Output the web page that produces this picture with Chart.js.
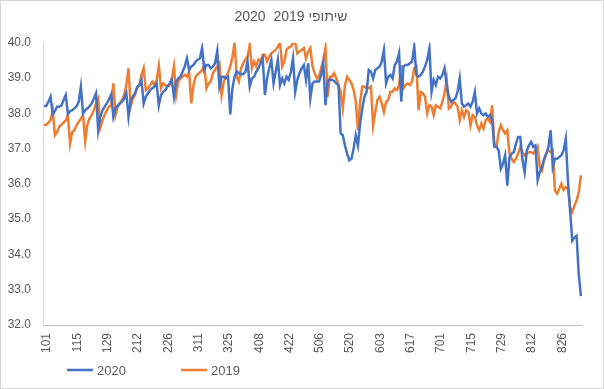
<!DOCTYPE html>
<html>
<head>
<meta charset="utf-8">
<script src="https://cdn.jsdelivr.net/npm/chart.js@4.4.1/dist/chart.umd.min.js"></script>
<style>
  body { margin: 0; background: #ffffff; }
  canvas { display: block; }
</style>
</head>
<body>
<canvas id="tempChart" width="604" height="389"></canvas>
<script>
// days Jan 1 .. Sep 5 (leap year), labelled as MDD
const monthDays = [31, 29, 31, 30, 31, 30, 31, 31, 30];
const categories = [];
monthDays.forEach((n, m) => {
  for (let d = 1; d <= n; d++) {
    categories.push(`${m + 1}${String(d).padStart(2, "0")}`);
  }
});
categories.length = 249;

const tickLabels = ["101", "115", "129", "212", "226", "311", "325", "408", "422",
  "506", "520", "603", "617", "701", "715", "729", "812", "826"];

const series2020 = [
  38.21, 38.21, 38.33, 38.47, 37.97, 38.06, 38.19, 38.19, 38.22, 38.38,
  38.52, 37.98, 38.06, 38.09, 38.14, 38.2, 38.33, 38.76, 38.0, 38.09,
  38.14, 38.2, 38.28, 38.42, 38.57, 37.52, 37.9, 38.09, 38.19, 38.28,
  38.4, 38.54, 37.9, 38.14, 38.21, 38.28, 38.33, 38.42, 38.57, 37.9,
  38.38, 38.47, 38.57, 38.75, 38.8, 38.95, 38.28, 38.47, 38.57, 38.66,
  38.71, 38.76, 38.85, 38.23, 38.52, 38.61, 38.66, 38.76, 38.85, 38.95,
  38.47, 38.9, 38.99, 39.04, 39.18, 39.33, 39.56, 39.23, 39.33, 39.37,
  39.47, 39.52, 39.56, 39.85, 39.23, 39.37, 39.37, 39.28, 39.33, 39.42,
  39.77, 38.76, 39.04, 39.04, 38.99, 39.04, 37.97, 38.71, 39.04, 39.18,
  39.14, 39.11, 39.11, 39.18, 39.47, 38.76, 38.99, 39.04, 39.18, 39.28,
  39.42, 39.56, 38.52, 38.99, 39.28, 39.52, 38.85, 39.18, 39.52, 38.8,
  38.99, 38.85, 39.04, 38.95, 39.18, 39.56, 38.61, 38.95, 39.14, 39.28,
  39.37, 38.95, 39.42, 38.42, 38.85, 38.9, 38.9, 38.9, 39.09, 39.42,
  38.23, 38.9, 38.97, 38.95, 38.92, 38.85, 38.8, 37.43, 37.38, 37.09,
  36.86, 36.67, 36.71, 37.0, 37.38, 37.09, 37.71, 38.14, 38.47, 38.61,
  39.23, 39.18, 38.99, 39.23, 39.28, 39.33, 39.47, 39.8, 38.85, 39.04,
  39.09, 38.99, 39.37, 39.47, 39.71, 38.33, 39.33, 39.37, 39.37, 39.42,
  39.47, 39.9, 39.09, 39.04, 39.09, 39.18, 39.33, 39.52, 39.85, 38.61,
  38.95, 38.8, 39.04, 38.99, 39.09, 39.28, 38.8, 38.47, 38.33, 38.38,
  38.42, 38.61, 38.99, 38.28, 38.19, 38.23, 38.28, 38.19, 38.33, 38.61,
  38.0, 38.14, 38.0, 37.95, 38.0, 37.9, 37.95, 37.81, 37.05, 37.05,
  36.95, 36.43, 36.57, 36.81, 35.95, 36.76, 36.86, 36.9, 37.14, 37.33,
  37.33, 36.67, 36.33, 36.95, 37.09, 37.19, 37.05, 37.09, 36.1, 36.33,
  36.48, 36.71, 36.86, 37.05, 37.52, 36.48, 36.71, 36.71, 36.76, 36.81,
  36.95, 37.28, 36.1, 35.24, 34.39, 34.48, 34.53, 33.44, 32.82
];

const series2019 = [
  37.66, 37.68, 37.74, 37.81, 38.09, 37.38, 37.47, 37.62, 37.68, 37.74,
  37.8, 37.95, 37.14, 37.47, 37.52, 37.66, 37.76, 37.85, 37.95, 37.21,
  37.68, 37.85, 37.95, 38.09, 38.28, 38.42, 37.6, 37.81, 37.95, 38.09,
  38.19, 38.23, 38.85, 37.95, 38.19, 38.28, 38.38, 38.52, 38.8, 39.28,
  38.19, 38.42, 38.52, 38.71, 38.8, 39.09, 39.28, 38.66, 38.71, 38.8,
  38.9, 38.8, 38.95, 39.35, 38.71, 38.85, 38.8, 38.76, 38.8, 38.99,
  39.33, 38.52, 38.9, 38.99, 39.04, 39.09, 39.04, 39.18, 38.28, 38.8,
  39.04, 39.11, 39.16, 39.23, 39.37, 38.71, 38.85, 38.9, 39.14, 39.23,
  39.33, 39.42, 38.52, 38.9, 39.04, 39.14, 39.33, 39.6, 40.0, 39.04,
  38.9, 39.28, 39.42, 39.52, 39.61, 39.94, 39.28, 39.47, 39.33, 39.52,
  39.47, 39.66, 39.66, 39.47, 39.61, 39.7, 39.75, 39.8, 39.89, 40.0,
  39.33, 39.47, 39.8, 39.87, 39.89, 39.99, 40.0, 39.7, 39.75, 39.8,
  39.85, 39.56, 39.75, 39.85, 39.33, 39.14, 38.99, 39.04, 39.28, 39.52,
  39.85, 38.47, 39.04, 39.04, 39.14, 38.99, 38.8, 38.61, 38.14, 38.8,
  39.04, 38.95, 38.85, 38.66, 38.33, 37.52, 38.33, 38.76, 38.76, 38.71,
  38.71, 38.76, 37.66, 38.04, 38.38, 38.47, 38.28, 38.04, 38.33, 38.38,
  38.61, 38.61, 38.71, 38.66, 38.8, 39.37, 38.71, 38.8, 38.85, 38.8,
  38.9, 39.28, 39.33, 38.09, 38.61, 38.57, 38.47, 38.0, 38.23, 38.19,
  37.95, 38.23, 38.19, 38.14, 38.33, 38.57, 38.95, 38.14, 38.19, 38.33,
  38.28, 38.19, 37.81, 38.09, 37.9, 38.09, 38.04, 37.66, 37.95, 37.9,
  37.66, 37.52, 37.71, 37.57, 37.81, 37.85, 37.76, 38.23, 37.09, 37.05,
  37.47, 37.66, 37.52, 37.43, 37.52, 36.86, 36.71, 36.62, 36.71, 36.86,
  37.05, 36.9, 36.81, 36.86, 36.9, 36.9, 36.86, 36.95, 37.05, 36.48,
  36.38, 36.67, 36.86, 36.95, 36.9, 36.95, 35.81, 35.72, 35.86, 36.0,
  35.83, 35.91, 35.86, 35.34, 35.2, 35.38, 35.53, 35.76, 36.24
];

const seriesNames = ["2020", "2019"];
const seriesColors = ["#4472C4", "#ED7D31"];

const textColor = "#595959";
const fontFamily = "'Liberation Sans', Arial, sans-serif";

// white background, outer frame and the bottom legend
const chartFrame = {
  id: "chartFrame",
  beforeDraw(chart) {
    const ctx = chart.ctx;
    ctx.save();
    ctx.fillStyle = "#ffffff";
    ctx.fillRect(0, 0, chart.width, chart.height);
    ctx.restore();
  },
  afterDraw(chart) {
    const ctx = chart.ctx;
    ctx.save();
    ctx.strokeStyle = "#d9d9d9";
    ctx.lineWidth = 1;
    ctx.strokeRect(0.5, 0.5, chart.width - 1, chart.height - 1);

    const legendX = [67, 181];
    const legendY = 370;
    ctx.font = `13px ${fontFamily}`;
    ctx.textBaseline = "middle";
    ctx.textAlign = "left";
    chart.data.datasets.forEach((ds, i) => {
      ctx.strokeStyle = ds.borderColor;
      ctx.lineWidth = 2.5;
      ctx.beginPath();
      ctx.moveTo(legendX[i], legendY);
      ctx.lineTo(legendX[i] + 26, legendY);
      ctx.stroke();
      ctx.fillStyle = textColor;
      ctx.fillText(ds.label, legendX[i] + 30, legendY + 1);
    });
    ctx.restore();
  },
};

new Chart(document.getElementById("tempChart"), {
  type: "line",
  data: {
    labels: categories,
    datasets: [
      {
        label: seriesNames[0],
        data: series2020,
        borderColor: seriesColors[0],
        backgroundColor: seriesColors[0],
        borderWidth: 2.5,
        pointRadius: 0,
        tension: 0,
      },
      {
        label: seriesNames[1],
        data: series2019,
        borderColor: seriesColors[1],
        backgroundColor: seriesColors[1],
        borderWidth: 2.5,
        pointRadius: 0,
        tension: 0,
      },
    ],
  },
  options: {
    responsive: false,
    animation: false,
    layout: { padding: { left: 0, right: 22, top: 0, bottom: 34 } },
    plugins: {
      legend: { display: false },
      tooltip: { enabled: false },
      title: {
        display: true,
        text: "שיתופי 2019  2020",
        color: textColor,
        font: { family: fontFamily, size: 14, weight: "normal" },
        padding: { top: 9, bottom: 17 },
      },
    },
    scales: {
      x: {
        type: "category",
        offset: true,
        grid: { display: false, drawTicks: false },
        border: { display: true, color: "#bfbfbf", width: 1 },
        ticks: {
          autoSkip: false,
          maxRotation: 90,
          minRotation: 90,
          padding: 8,
          labelOffset: 3,
          color: textColor,
          font: { family: fontFamily, size: 12 },
          callback: function (value, index) {
            const lab = categories[index];
            return tickLabels.includes(lab) ? lab : null;
          },
        },
        afterFit: (scale) => {
          scale.height = 30;
        },
      },
      y: {
        min: 32,
        max: 40,
        grid: { display: false, drawTicks: false },
        border: { display: true, color: "#d9d9d9", width: 1 },
        ticks: {
          stepSize: 1,
          padding: 12,
          color: textColor,
          font: { family: fontFamily, size: 12 },
          callback: (v) => v.toFixed(1),
        },
        afterFit: (scale) => {
          scale.width = 43;
        },
      },
    },
  },
  plugins: [chartFrame],
});
</script>
</body>
</html>
